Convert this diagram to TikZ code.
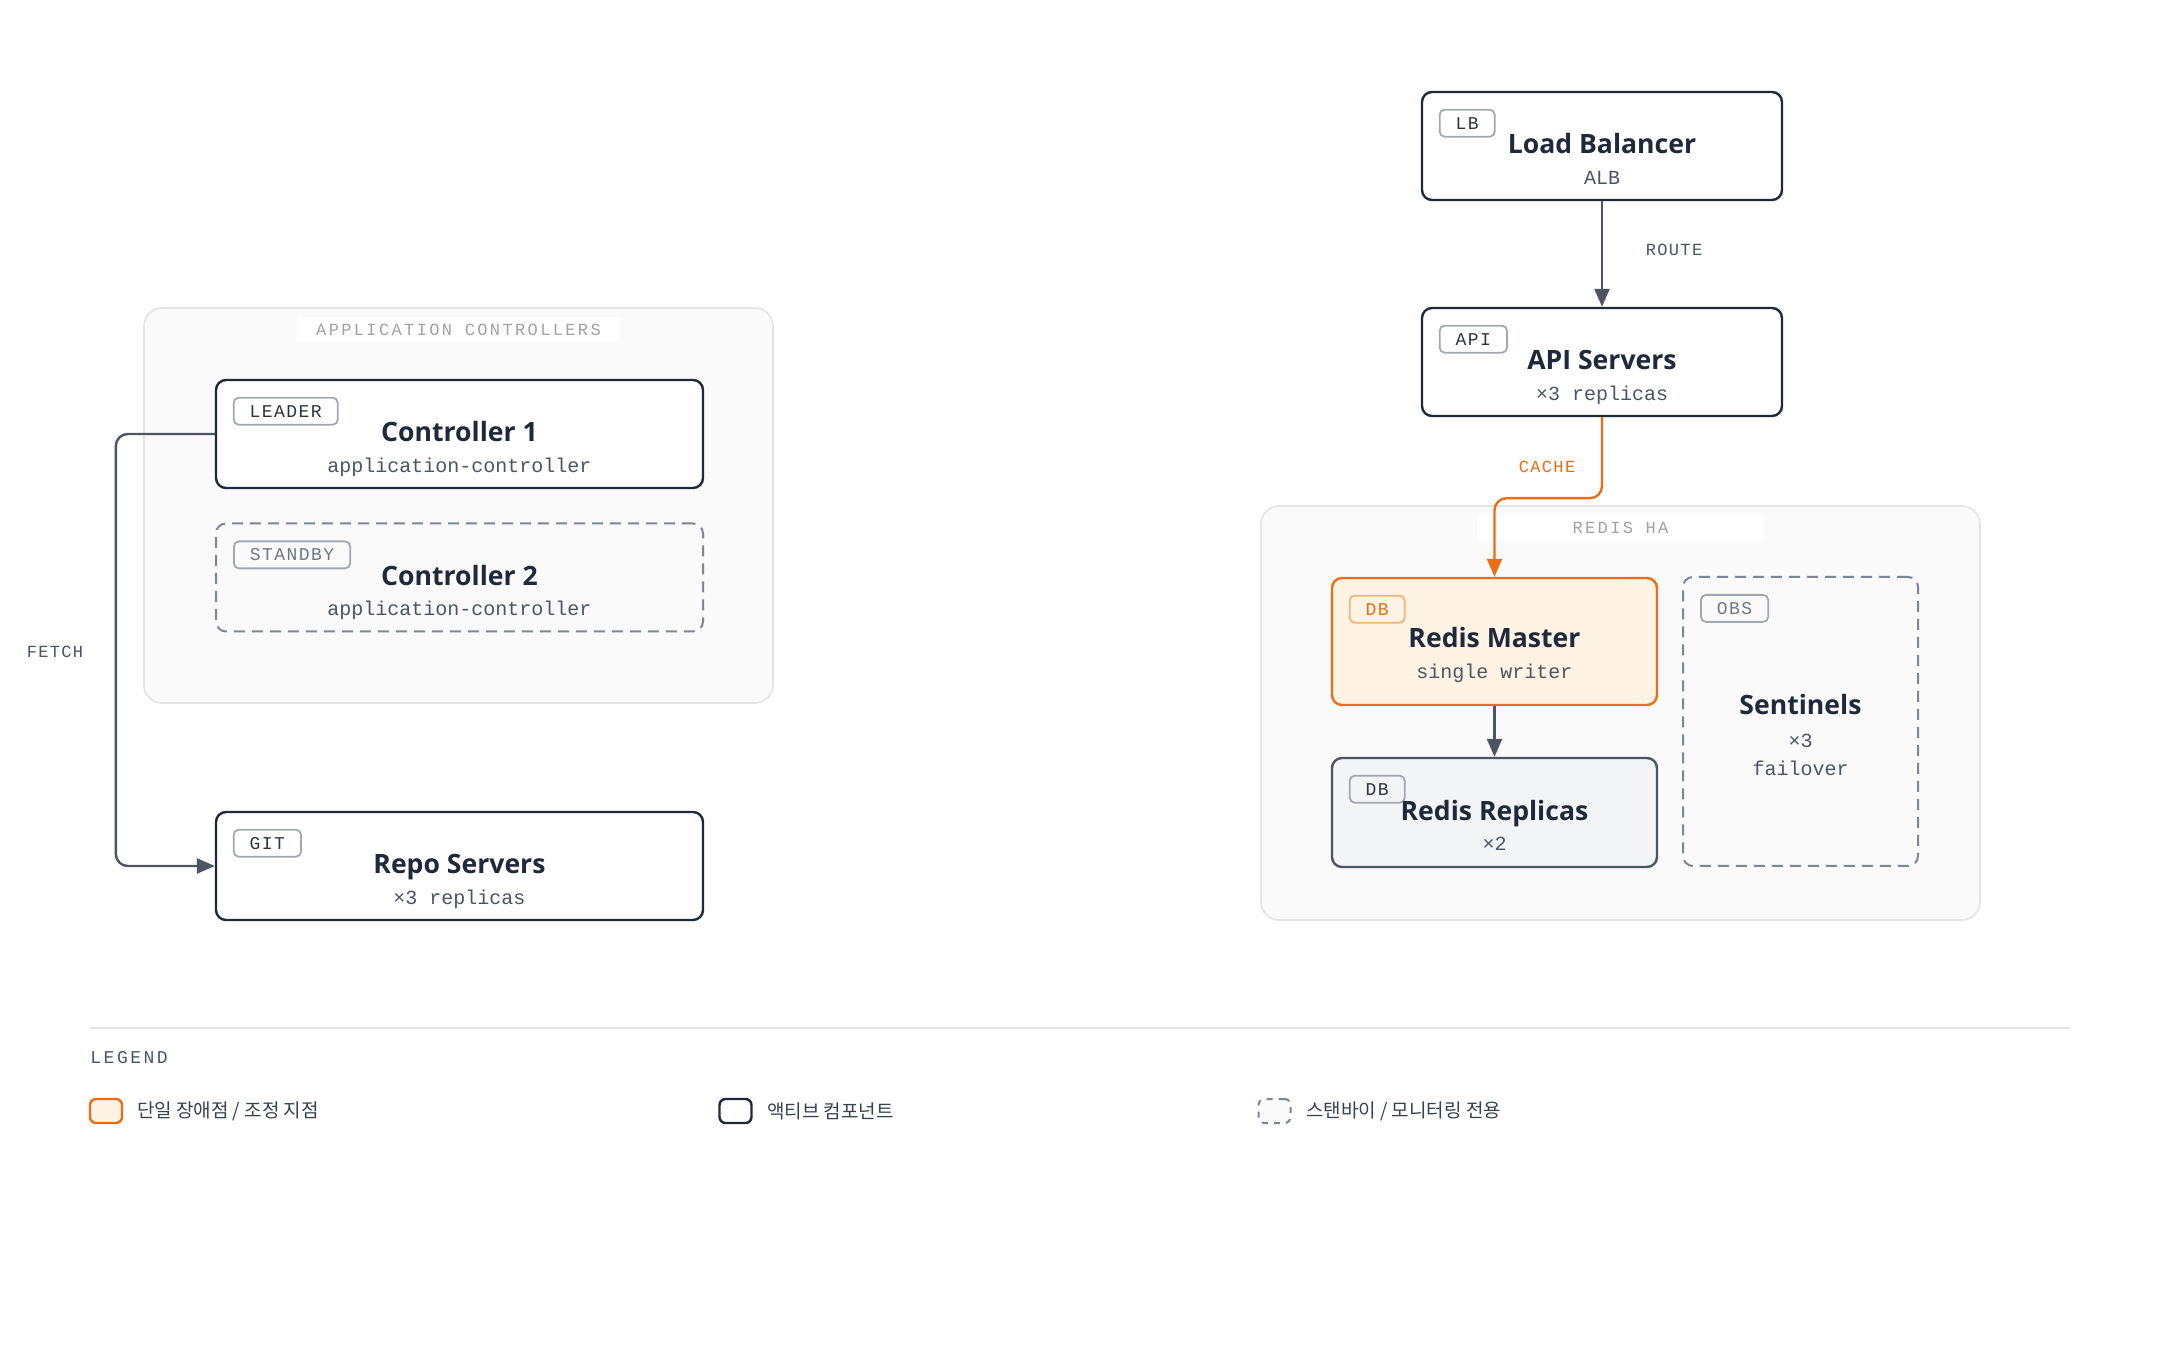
\documentclass[tikz,border=0pt]{standalone}
\usepackage{fontspec}
\setmainfont{Open Sans}
\newfontfamily\monofont{Liberation Mono}
\newfontfamily\tagfont[LetterSpace=8]{Liberation Mono}
\newfontfamily\capsfont[LetterSpace=14]{Liberation Mono}
\newfontfamily\krfont{Noto Sans CJK KR}
\usetikzlibrary{arrows.meta}

\definecolor{ink}{HTML}{1E293B}
\definecolor{steel}{HTML}{4B5563}
\definecolor{slate}{HTML}{7A8799}
\definecolor{amber}{HTML}{EC6D13}
\definecolor{cream}{HTML}{FFF4E3}
\definecolor{peach}{HTML}{F8B27C}
\definecolor{mist}{HTML}{F3F4F6}
\definecolor{panel}{HTML}{FAFAFA}
\definecolor{rim}{HTML}{E4E4E7}
\definecolor{faint}{HTML}{A1A1AA}
\definecolor{tagrim}{HTML}{A3A8B0}
\definecolor{tagink}{HTML}{2F3540}
\definecolor{legendink}{HTML}{374151}

\begin{document}
\begin{tikzpicture}[x=0.5pt,y=-0.5pt,
  group/.style={draw=rim,line width=0.8pt,fill=panel,rounded corners=9pt},
  grouplabel/.style={fill=white,text=faint,minimum height=13pt,inner sep=0pt,
    font=\capsfont\fontsize{8.5}{10}\selectfont},
  box/.style={draw=ink,line width=1.2pt,fill=white,rounded corners=5pt,
    minimum width=243.5pt,minimum height=54pt,inner sep=0pt},
  standby/.style={box,draw=slate,line width=1pt,fill=none,dash pattern=on 5.5pt off 3.5pt},
  spof/.style={box,draw=amber,fill=cream},
  replica/.style={box,draw=steel,fill=mist},
  tag/.style={draw=tagrim,line width=0.9pt,rounded corners=2.5pt,anchor=north west,
    minimum height=13.5pt,inner xsep=8pt,inner ysep=0pt,text=tagink,
    font=\tagfont\fontsize{9}{10}\selectfont},
  title/.style={anchor=base,text=ink,font=\fontsize{13.3}{16}\selectfont\bfseries},
  sub/.style={anchor=base,text=steel,font=\monofont\fontsize{10}{12}\selectfont},
  flow/.style={draw=steel,line width=1.2pt,rounded corners=6pt,
    -{Triangle[length=9pt,width=7.5pt]}},
  flowlabel/.style={text=steel,font=\tagfont\fontsize{8.5}{10}\selectfont},
  swatch/.style={line width=1.2pt,rounded corners=3pt,minimum width=16pt,minimum height=12pt,inner sep=0pt},
  legendtext/.style={anchor=west,text=legendink,font=\krfont\fontsize{9.5}{11}\selectfont}]

\fill[white] (0,0) rectangle (2160,1352);
\useasboundingbox (0,0) rectangle (2160,1352);

% groups
\node (appctl) [group,minimum width=314.5pt,minimum height=197.5pt] at (458.5,505.5) {};
\node (appctllabel) [grouplabel,minimum width=161.5pt] at ([yshift=-11.5pt]appctl.north) {APPLICATION CONTROLLERS};
\node (redisha) [group,minimum width=359.5pt,minimum height=207pt] at (1620.5,713) {};
\node (redishalabel) [grouplabel,minimum width=143.5pt] at ([yshift=-11.5pt]redisha.north) {REDIS HA};

% application controllers
\node (c1) [box] at (459.5,434) {};
\node (c1tag) [tag] at ([xshift=9pt,yshift=-9pt]c1.north west) {LEADER};
\node (c1title) [title] at ([yshift=-3.8pt]c1.center) {Controller 1};
\node (c1sub) [sub] at ([yshift=-19.2pt]c1.center) {application-controller};

\node (c2) [standby] at (459.5,577.5) {};
\node (c2tag) [tag,text=steel!80] at ([xshift=9pt,yshift=-9pt]c2.north west) {STANDBY};
\node (c2title) [title] at ([yshift=-3.8pt]c2.center) {Controller 2};
\node (c2sub) [sub] at ([yshift=-19.2pt]c2.center) {application-controller};

\node (repo) [box] at (459.5,866) {};
\node (repotag) [tag] at ([xshift=9pt,yshift=-9pt]repo.north west) {GIT};
\node (repotitle) [title] at ([yshift=-3.8pt]repo.center) {Repo Servers};
\node (reposub) [sub] at ([yshift=-19.2pt]repo.center) {×3 replicas};

% entry path
\node (lb) [box,minimum width=180pt] at (1602,146) {};
\node (lbtag) [tag] at ([xshift=9pt,yshift=-9pt]lb.north west) {LB};
\node (lbtitle) [title] at ([yshift=-3.8pt]lb.center) {Load Balancer};
\node (lbsub) [sub] at ([yshift=-19.2pt]lb.center) {ALB};

\node (api) [box,minimum width=180pt] at (1602,362) {};
\node (apitag) [tag] at ([xshift=9pt,yshift=-9pt]api.north west) {API};
\node (apititle) [title] at ([yshift=-3.8pt]api.center) {API Servers};
\node (apisub) [sub] at ([yshift=-19.2pt]api.center) {×3 replicas};

% redis
\node (master) [spof,minimum width=162.5pt,minimum height=63.5pt] at (1494.5,641.5) {};
\node (mastertag) [tag,draw=peach,text=amber] at ([xshift=9pt,yshift=-9pt]master.north west) {DB};
\node (mastertitle) [title] at ([yshift=-3pt]master.center) {Redis Master};
\node (mastersub) [sub] at ([yshift=-18.5pt]master.center) {single writer};

\node (replicas) [replica,minimum width=162.5pt,minimum height=54.5pt] at (1494.5,812.5) {};
\node (replicastag) [tag] at ([xshift=9pt,yshift=-9pt]replicas.north west) {DB};
\node (replicastitle) [title] at ([yshift=-3.8pt]replicas.center) {Redis Replicas};
\node (replicassub) [sub] at ([yshift=-19.2pt]replicas.center) {×2};

\node (sentinels) [standby,minimum width=117.5pt,minimum height=144.5pt] at (1800.5,721.5) {};
\node (sentinelstag) [tag,text=steel!80] at ([xshift=9pt,yshift=-9pt]sentinels.north west) {OBS};
\node (sentinelstitle) [title] at ([yshift=3.6pt]sentinels.center) {Sentinels};
\node (sentinelscount) [sub] at ([yshift=-12.8pt]sentinels.center) {×3};
\node (sentinelssub) [sub] at ([yshift=-27pt]sentinels.center) {failover};

% connectors
\draw[flow] (c1.west) -- ++(-99,0) |- (repo.west);
\node (fetch) [flowlabel] at (55,652) {FETCH};
\draw[flow] (lb) -- (api);
\node (route) [flowlabel] at (1674,250) {ROUTE};
\draw[flow,draw=amber] (api.south) -- ++(0,81) -| (master.north);
\node (cache) [flowlabel,text=amber] at (1547,467) {CACHE};
\draw[flow] (master) -- (replicas);

% legend
\draw[rim,line width=1.2pt] (90,1028) -- (2070,1028);
\node (legend) [anchor=west,inner sep=0pt,text=steel,font=\capsfont\fontsize{9}{10}\selectfont] at (90,1058) {LEGEND};
\node (keyspof) [swatch,draw=amber,fill=cream] at (106,1111) {};
\node (keyspoftext) [legendtext] at (130,1111) {단일 장애점 / 조정 지점};
\node (keyactive) [swatch,draw=ink,fill=white] at (735.5,1111) {};
\node (keyactivetext) [legendtext] at (760,1111) {액티브 컴포넌트};
\node (keystandby) [swatch,draw=slate,fill=panel,line width=1pt,dash pattern=on 3pt off 3pt] at (1274.5,1111) {};
\node (keystandbytext) [legendtext] at (1299,1111) {스탠바이 / 모니터링 전용};
\end{tikzpicture}
\end{document}
